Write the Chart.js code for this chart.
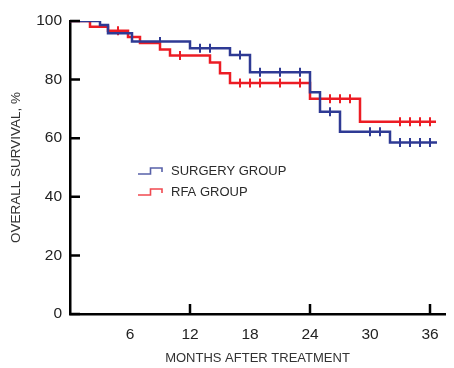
<!DOCTYPE html>
<html>
<head>
<meta charset="utf-8">
<script src="https://cdn.jsdelivr.net/npm/chart.js@4/dist/chart.umd.min.js"></script>
<style>
  html, body { margin: 0; padding: 0; background: #fff; }
  #wrap { width: 454px; height: 368px; position: relative; }
</style>
</head>
<body>
<div id="wrap"><canvas id="c" width="454" height="368"></canvas></div>
<script>
// ---- data ----
const seriesNames = ['SURGERY GROUP', 'RFA GROUP'];
const surgeryTimes  = [0, 3, 3.8, 6.2, 12, 16, 18, 24, 25, 27, 32, 36.7];
const surgerySurv   = [100, 98.6, 95.8, 93, 90.7, 88.4, 82.5, 75.7, 69, 62.2, 58.5, 58.5];
const surgeryCensor = [9, 13, 14, 17, 19, 21, 23, 26, 30, 31, 33, 34, 35, 36];
const rfaTimes  = [0, 2, 3.8, 5.8, 7, 9, 10, 14, 15, 16, 24, 29, 36.6];
const rfaSurv   = [100, 98, 96.7, 94.5, 92.5, 90.3, 88.2, 85.8, 82.2, 78.8, 73.5, 65.6, 65.6];
const rfaCensor = [4.8, 11, 17, 18, 19, 21, 23, 26, 27, 28, 33, 34, 35, 36];
const xTickLabels = [6, 12, 18, 24, 30, 36];
const xMajorTicks = [12, 24, 36];
const yTickLabels = [0, 20, 40, 60, 80, 100];

const BLUE = '#2E3A94';
const RED = '#EC1C24';
const FONT = "'Liberation Sans', Arial, Helvetica, sans-serif";

function toPoints(ts, vs) { return ts.map((t, i) => ({x: t, y: vs[i]})); }
function levelAt(ts, vs, t) {
  let v = vs[0];
  for (let i = 0; i < ts.length; i++) { if (ts[i] <= t) v = vs[i]; }
  return v;
}
function censorPoints(cs, ts, vs) { return cs.map(t => ({x: t, y: levelAt(ts, vs, t)})); }

const innerTicks = {
  id: 'innerTicks',
  afterDatasetsDraw(chart) {
    const {ctx, chartArea, scales} = chart;
    ctx.save();
    ctx.strokeStyle = '#000';
    ctx.lineWidth = 2.5;
    ctx.beginPath();
    xMajorTicks.forEach(v => {
      const px = scales.x.getPixelForValue(v);
      ctx.moveTo(px, chartArea.bottom); ctx.lineTo(px, chartArea.bottom - 10);
    });
    yTickLabels.forEach(v => {
      const py = scales.y.getPixelForValue(v);
      ctx.moveTo(chartArea.left, py); ctx.lineTo(chartArea.left + 10, py);
    });
    ctx.stroke();
    ctx.restore();
  }
};

const stepLegend = {
  id: 'stepLegend',
  afterDraw(chart) {
    const {ctx, chartArea} = chart;
    const x0 = chartArea.left + 68, y0 = chartArea.top + 153;
    const items = [{c: BLUE, t: seriesNames[0]}, {c: RED, t: seriesNames[1]}];
    ctx.save();
    items.forEach((it, i) => {
      const y = y0 + i * 21;
      ctx.strokeStyle = it.c; ctx.lineWidth = 1.6;
      ctx.globalAlpha = 0.8;
      ctx.beginPath();
      ctx.moveTo(x0, y); ctx.lineTo(x0 + 12.5, y); ctx.lineTo(x0 + 12.5, y - 6);
      ctx.lineTo(x0 + 24, y - 6); ctx.lineTo(x0 + 24, y - 2);
      ctx.stroke();
      ctx.globalAlpha = 1;
      ctx.fillStyle = '#2a2a2a';
      ctx.font = '13px ' + FONT;
      ctx.textBaseline = 'middle';
      ctx.textAlign = 'left';
      ctx.fillText(it.t, x0 + 33, y - 3);
    });
    ctx.restore();
  }
};

new Chart(document.getElementById('c'), {
  type: 'line',
  data: {
    datasets: [
      { label: seriesNames[0], data: toPoints(surgeryTimes, surgerySurv), stepped: 'before',
        borderColor: BLUE, borderWidth: 2.5, pointRadius: 0, fill: false },
      { label: seriesNames[1], data: toPoints(rfaTimes, rfaSurv), stepped: 'before',
        borderColor: RED, borderWidth: 2.5, pointRadius: 0, fill: false },
      { label: 'sc', data: censorPoints(surgeryCensor, surgeryTimes, surgerySurv), showLine: false,
        pointStyle: 'line', rotation: 90, pointRadius: 4.5, pointBorderWidth: 2, borderColor: BLUE, backgroundColor: BLUE },
      { label: 'rc', data: censorPoints(rfaCensor, rfaTimes, rfaSurv), showLine: false,
        pointStyle: 'line', rotation: 90, pointRadius: 4.5, pointBorderWidth: 2, borderColor: RED, backgroundColor: RED }
    ]
  },
  options: {
    responsive: false,
    animation: false,
    layout: { padding: { top: 21, right: 9, left: 0, bottom: 0 } },
    plugins: { legend: { display: false }, tooltip: { enabled: false } },
    scales: {
      x: {
        type: 'linear', min: 0, max: 37.5,
        afterBuildTicks(s) { s.ticks = xTickLabels.map(v => ({value: v})); },
        afterFit(s) { s.height = 54; },
        grid: { display: true, drawOnChartArea: false, drawTicks: false },
        border: { display: true, color: '#000', width: 2.5 },
        ticks: { padding: 11, color: '#222', font: { family: FONT, size: 15.5 }, maxRotation: 0, autoSkip: false },
        title: { display: true, text: 'MONTHS AFTER TREATMENT', color: '#333',
                 font: { family: FONT, size: 13 }, padding: { top: 0, bottom: 2 } }
      },
      y: {
        min: 0, max: 100,
        afterBuildTicks(s) { s.ticks = yTickLabels.map(v => ({value: v})); },
        afterFit(s) { s.width = 70; },
        grid: { display: true, drawOnChartArea: false, drawTicks: false },
        border: { display: true, color: '#000', width: 2.5 },
        ticks: { padding: 8, color: '#222', font: { family: FONT, size: 15.5 } },
        title: { display: true, text: 'OVERALL SURVIVAL, %', color: '#333',
                 font: { family: FONT, size: 13.5 }, padding: { top: 8, bottom: 0 } }
      }
    }
  },
  plugins: [innerTicks, stepLegend]
});
</script>
</body>
</html>
